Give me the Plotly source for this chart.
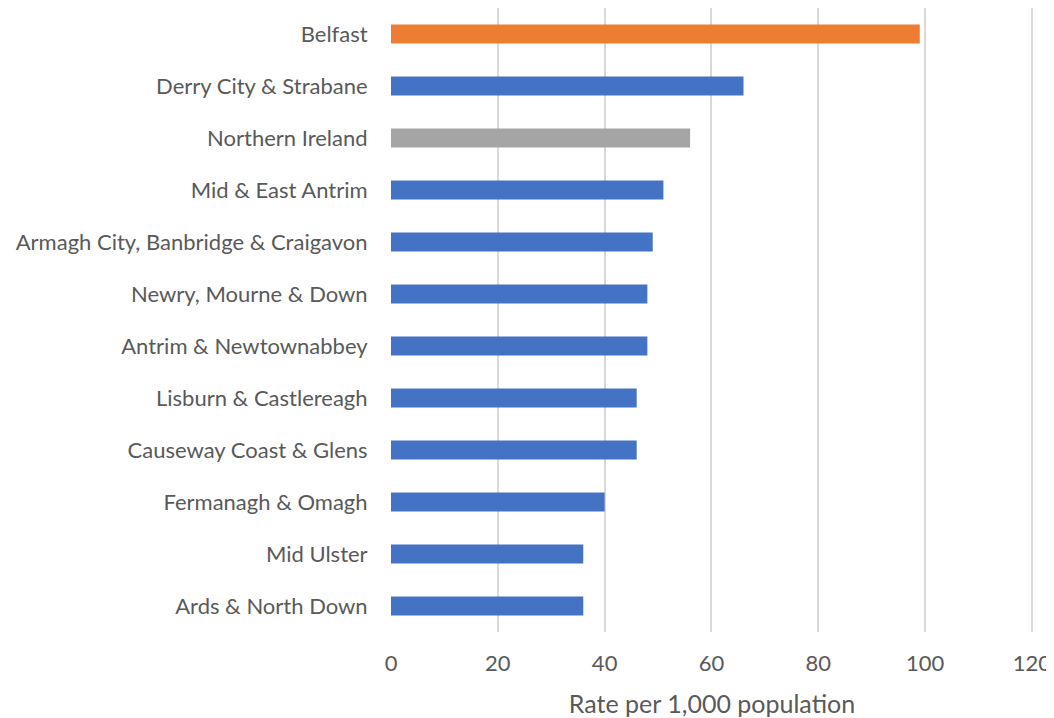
import plotly.graph_objects as go

categories = [
    "Belfast", "Derry City & Strabane", "Northern Ireland", "Mid & East Antrim",
    "Armagh City, Banbridge & Craigavon", "Newry, Mourne & Down",
    "Antrim & Newtownabbey", "Lisburn & Castlereagh", "Causeway Coast & Glens",
    "Fermanagh & Omagh", "Mid Ulster", "Ards & North Down",
]
values = [99, 66, 56, 51, 49, 48, 48, 46, 46, 40, 36, 36]
colors = ["#ED7D31", "#4472C4", "#A5A5A5"] + ["#4472C4"] * 9
x_ticks = [0, 20, 40, 60, 80, 100, 120]

fig = go.Figure(go.Bar(
    x=values, y=categories, orientation="h",
    marker=dict(color=colors, line=dict(width=0)),
))

font = "Lato"
fig.update_layout(
    width=1046, height=710,
    margin=dict(l=383, r=21, t=0, b=86),
    plot_bgcolor="white", paper_bgcolor="white",
    bargap=0.635,
    showlegend=False,
    font=dict(family=font, size=22, color="#595959"),
    xaxis=dict(
        range=[0, 120.2], tickvals=x_ticks, showgrid=True, gridcolor="#D9D9D9",
        gridwidth=1.5, zeroline=False, showline=False,
        ticks="outside", ticklen=12, tickcolor="rgba(0,0,0,0)",
        tickfont=dict(size=22, color="#595959"),
        ticklabeloverflow="allow",
        title=dict(text="Rate per 1,000 population", standoff=25,
                   font=dict(size=25, color="#595959")),
        automargin=False,
    ),
    yaxis=dict(
        categoryorder="array", categoryarray=categories[::-1],
        showgrid=False, zeroline=False, showline=False,
        ticks="outside", ticklen=18, tickcolor="rgba(0,0,0,0)",
        tickfont=dict(size=22, color="#595959"),
        range=[-0.5, 11.5],
    ),
)

fig.write_html("out.html")
